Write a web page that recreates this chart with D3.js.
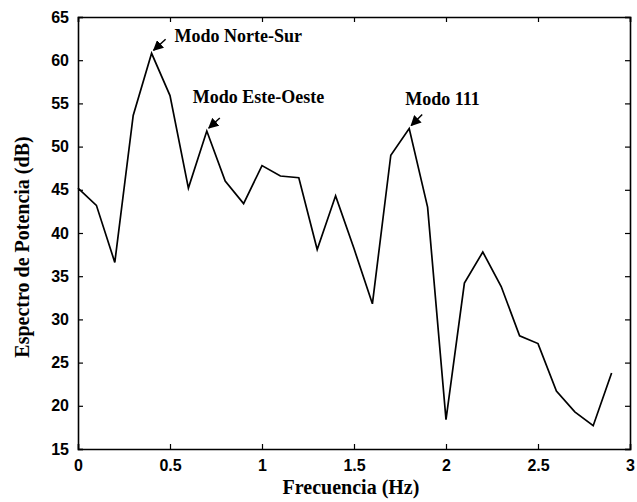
<!DOCTYPE html>
<html>
<head>
<meta charset="utf-8">
<script src="https://cdn.jsdelivr.net/npm/d3@7"></script>
<style>
body { margin: 0; background: #fff; }
</style>
</head>
<body>
<div id="chart"></div>
<script>
// Data
var freq = [0, 0.1, 0.2, 0.3, 0.4, 0.5, 0.6, 0.7, 0.8, 0.9,
            1.0, 1.1, 1.2, 1.3, 1.4, 1.5, 1.6, 1.7, 1.8, 1.9,
            2.0, 2.1, 2.2, 2.3, 2.4, 2.5, 2.6, 2.7, 2.8, 2.9];
var power = [45.2, 43.2, 36.6, 53.6, 60.8, 55.9, 45.2, 51.8, 46.0, 43.4,
             47.8, 46.6, 46.4, 38.1, 44.3, 38.2, 31.8, 49.0, 52.1, 43.0,
             18.4, 34.2, 37.8, 33.8, 28.1, 27.2, 21.7, 19.3, 17.7, 23.8];
var xTicks = [0, 0.5, 1, 1.5, 2, 2.5, 3];
var yTicks = [15, 20, 25, 30, 35, 40, 45, 50, 55, 60, 65];
var modeLabels = ["Modo Norte-Sur", "Modo Este-Oeste", "Modo 111"];
var modeFreqs = [0.4, 0.7, 1.8];

var width = 637, height = 502;
var margin = { top: 17, right: 7, bottom: 53, left: 78 };
var innerW = width - margin.left - margin.right;
var innerH = height - margin.top - margin.bottom;

var svg = d3.select("#chart").append("svg")
    .attr("width", width)
    .attr("height", height);

var g = svg.append("g")
    .attr("transform", `translate(${margin.left}, ${margin.top})`);

var x = d3.scaleLinear().domain([0, 3]).range([0, innerW]);
var y = d3.scaleLinear().domain([15, 65]).range([innerH, 0]);

// arrow head
svg.append("defs").append("marker")
    .attr("id", "arrow")
    .attr("viewBox", "0 0 10 10")
    .attr("refX", 9).attr("refY", 5)
    .attr("markerWidth", 7).attr("markerHeight", 7)
    .attr("orient", "auto")
    .append("path")
    .attr("d", "M0,0 L10,5 L0,10 Z")
    .attr("fill", "#000");

// axes, ticks pointing inward like matlab
var tickFont = "'Liberation Sans', Arial, sans-serif";

var xAxis = g.append("g")
    .attr("transform", `translate(0, ${innerH})`)
    .call(d3.axisBottom(x).tickValues(xTicks).tickSize(-5).tickPadding(8).tickFormat(d3.format("")));
var yAxis = g.append("g")
    .call(d3.axisLeft(y).tickValues(yTicks).tickSize(-5).tickPadding(9));
var xTop = g.append("g")
    .call(d3.axisTop(x).tickValues(xTicks).tickSize(-5).tickFormat(""));
var yRight = g.append("g")
    .attr("transform", `translate(${innerW}, 0)`)
    .call(d3.axisRight(y).tickValues(yTicks).tickSize(-5).tickFormat(""));

[xAxis, yAxis, xTop, yRight].forEach(function(a) {
    a.select(".domain").attr("stroke", "#000").attr("stroke-width", 1.6);
    a.selectAll(".tick line").attr("stroke", "#000").attr("stroke-width", 1.2);
    a.selectAll("text")
        .style("font-family", tickFont)
        .style("font-size", "16px")
        .style("font-weight", "bold")
        .attr("fill", "#000");
});
xAxis.selectAll("text").attr("dy", "0.9em");

// spectrum line
var line = d3.line()
    .x(function(d, i) { return x(freq[i]); })
    .y(function(d) { return y(d); });

g.append("path")
    .datum(power)
    .attr("fill", "none")
    .attr("stroke", "#000")
    .attr("stroke-width", 1.7)
    .attr("stroke-linejoin", "miter")
    .attr("d", line);

// annotations
var serif = "'Liberation Serif', 'Times New Roman', serif";
var textOffsets = [[23, -11], [-14, -28], [-4, -23]];
var arrowTails = [[14, -14], [13, -13], [13, -14]];

modeLabels.forEach(function(label, k) {
    var i = freq.indexOf(modeFreqs[k]);
    var px = x(freq[i]), py = y(power[i]);
    g.append("line")
        .attr("x1", px + arrowTails[k][0]).attr("y1", py + arrowTails[k][1])
        .attr("x2", px + 2).attr("y2", py - 3)
        .attr("stroke", "#000")
        .attr("stroke-width", 1.5)
        .attr("marker-end", "url(#arrow)");
    g.append("text")
        .attr("x", px + textOffsets[k][0])
        .attr("y", py + textOffsets[k][1])
        .style("font-family", serif)
        .style("font-weight", "bold")
        .style("font-size", "18px")
        .text(label);
});

// axis titles
svg.append("text")
    .attr("x", margin.left + innerW / 2 - 3)
    .attr("y", height - 8)
    .attr("text-anchor", "middle")
    .style("font-family", serif)
    .style("font-weight", "bold")
    .style("font-size", "20px")
    .text("Frecuencia (Hz)");

svg.append("text")
    .attr("transform", "rotate(-90)")
    .attr("x", -247)
    .attr("y", 29)
    .attr("text-anchor", "middle")
    .style("font-family", serif)
    .style("font-weight", "bold")
    .style("font-size", "20px")
    .text("Espectro de Potencia (dB)");
</script>
</body>
</html>
